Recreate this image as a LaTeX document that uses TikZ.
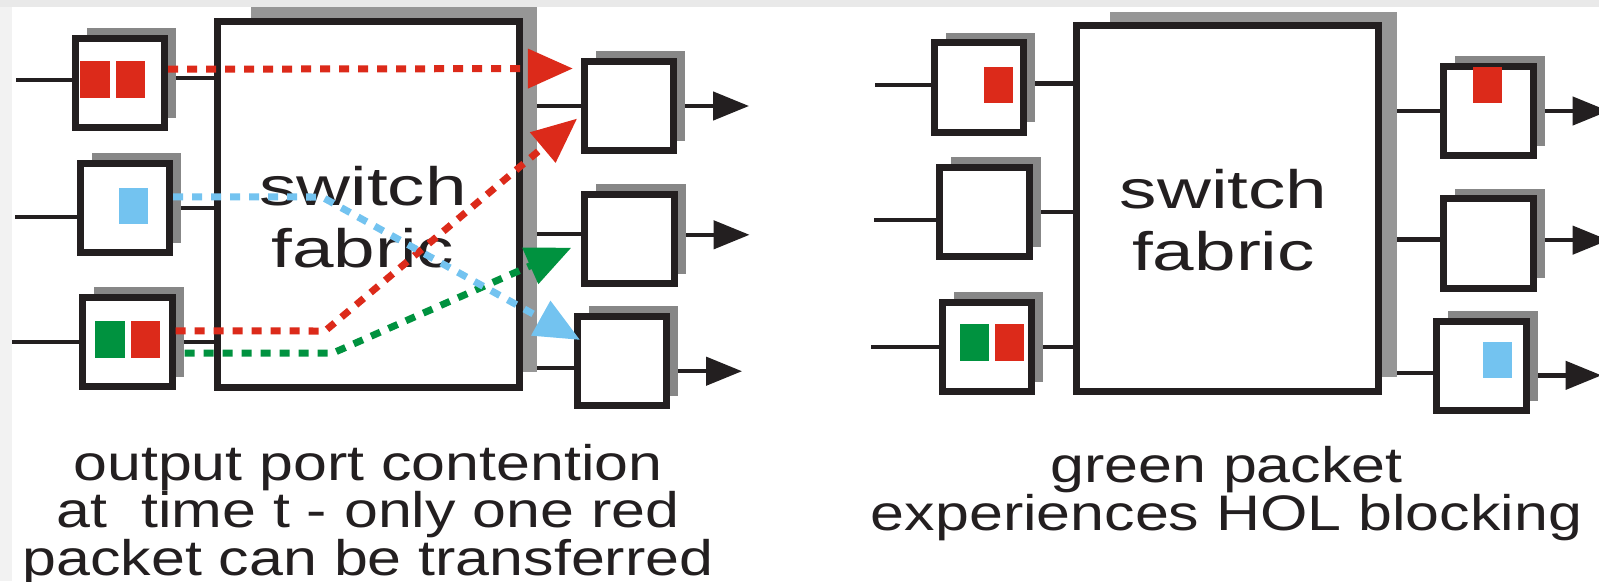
\documentclass[tikz,border=0pt]{standalone}
\usepackage{fontspec}
\setmainfont{Liberation Sans}
\newfontfamily\capfont[FakeStretch=1.22]{Liberation Sans}
\newfontfamily\fabfont[FakeStretch=1.38]{Liberation Sans}
\usetikzlibrary{positioning,arrows.meta,shadows,backgrounds}
\definecolor{ink}{RGB}{35,31,32}
\definecolor{pktred}{RGB}{220,42,26}
\definecolor{pktgreen}{RGB}{0,146,63}
\definecolor{pktblue}{RGB}{115,195,240}
\definecolor{boxshade}{RGB}{135,135,135}
\definecolor{fabshade}{RGB}{150,150,150}
\definecolor{bandtop}{RGB}{233,233,233}
\definecolor{bandleft}{RGB}{242,242,242}
\tikzset{
  port/.style={draw=ink, fill=white, line width=0.07cm, minimum size=0.89cm, inner sep=0pt,
    general shadow={fill=boxshade, shadow xshift=0.115cm, shadow yshift=0.1cm}},
  fabric/.style={draw=ink, fill=white, line width=0.07cm, minimum width=3.02cm, minimum height=3.65cm, inner sep=0pt},
  pkt/.style={minimum width=0.29cm, minimum height=0.36cm, inner sep=0pt},
  wire/.style={ink, line width=0.045cm},
  outwire/.style={wire, -{Triangle[length=0.36cm,width=0.28cm]}},
  flow/.style={line width=0.07cm, dash pattern=on 0.1cm off 0.09cm, -{Triangle[length=0.45cm,width=0.38cm]}},
  caption/.style={align=center, font=\capfont\fontsize{14.2pt}{13.4pt}\selectfont, text=ink, inner sep=0pt},
  fablabel/.style={align=center, font=\fabfont\fontsize{15.4pt}{17.6pt}\selectfont, text=ink, inner sep=0pt}
}
\begin{document}
\begin{tikzpicture}[x=0.01cm, y=-0.01cm]
    \useasboundingbox (0,0) rectangle (1599,581);
    % input port contention
    \fill[fabshade] (251,7) rectangle (537,372);
    \node[fabric] (fab1) at (368.5,204.5) {};
    \node[port] (in1) at (120,83) {};
    \node[port] (in2) at (125,208) {};
    \node[port] (in3) at (127.5,342) {};
    \node[port] (out1) at (629,106) {};
    \node[port] (out2) at (629.5,239) {};
    \node[port] (out3) at (622,361) {};
    \node[pkt, fill=pktred] (p1a) at (95,79.5) {};
    \node[pkt, fill=pktred, right=0.05cm of p1a] (p1b) {};
    \node[pkt, fill=pktblue] (p2) at (133.5,206) {};
    \node[pkt, fill=pktgreen] (p3a) at (110,339.5) {};
    \node[pkt, fill=pktred, right=0.05cm of p3a] (p3b) {};
    \node[fablabel] (lab1) at ([xshift=-0.055cm,yshift=-0.125cm]fab1.center) {switch\\fabric};
    \coordinate (bendr) at (325,331);
    \coordinate (bendg) at (333,353);
    \coordinate (bendb) at (322,197);
    \draw[flow, pktred, shorten >=0.08cm] (in1.16) -- (out1.142);
    \draw[flow, pktred, shorten >=0.05cm] (in3.13) -- (bendr) -- (out1.191);
    \draw[flow, pktgreen, shorten <=0.09cm, shorten >=0.11cm] (in3.347) -- (bendg) -- (out2.185);
    \draw[flow, pktblue, shorten >=-0.07cm] (in2.13) -- (bendb) -- (out3.153);
    \node[caption, anchor=base] (cap1) at (368,575) {output port contention\\at\ \ time t - only one red\\packet can be transferred};

    % head-of-line blocking
    \fill[fabshade] (1110,12) rectangle (1397,377);
    \node[fabric] (fab2) at (1227.5,208.5) {};
    \node[port] (rin1) at (979,87.5) {};
    \node[port] (rin2) at (984.5,212) {};
    \node[port] (rin3) at (987,347) {};
    \node[port] (rout1) at (1488.5,111) {};
    \node[port] (rout2) at (1488.5,243.5) {};
    \node[port] (rout3) at (1481.5,366) {};
    \node[pkt, fill=pktred] (q1) at (998.5,85) {};
    \node[pkt, fill=pktgreen] (q3a) at (974.5,342.5) {};
    \node[pkt, fill=pktred, right=0.05cm of q3a] (q3b) {};
    \node[pkt, fill=pktred] (q4) at (1487.5,85) {};
    \node[pkt, fill=pktblue] (q6) at (1497.5,360) {};
    \node[fablabel] (lab2) at ([xshift=-0.04cm,yshift=-0.115cm]fab2.center) {switch\\fabric};
    \node[caption, anchor=base] (cap2) at (1226.5,530) {green packet\\experiences HOL blocking};

    \begin{pgfonlayer}{background}
    \fill[white] (0,0) rectangle (1599,581);
    \fill[bandtop] (0,0) rectangle (1599,7);
    \fill[bandleft] (0,7) rectangle (12,581);
    \coordinate (src1) at (16,80);
    \coordinate (src2) at (15,217);
    \coordinate (src3) at (12,342);
    \draw[wire] (src1) -- (src1 -| in1.west);
    \draw[wire] (src2) -- (src2 -| in2.west);
    \draw[wire] (src3) -- (src3 -| in3.west);
    \draw[wire] (in1.6) -- (in1.6 -| fab1.west);
    \draw[wire] (in2.east) -- (in2.east -| fab1.west);
    \draw[wire] (in3.east) -- (in3.east -| fab1.west);
    \draw[wire] (fab1.east |- out1.west) -- (out1.west);
    \draw[wire] (fab1.east |- out2.174) -- (out2.174);
    \draw[wire] (fab1.east |- out3.188) -- (out3.188);
    \coordinate[right=0.72cm of out1.east] (dst1);
    \coordinate[right=0.72cm of out2.5] (dst2);
    \coordinate[right=0.72cm of out3.348] (dst3);
    \draw[outwire] (out1.east) -- (dst1);
    \draw[outwire] (out2.5) -- (dst2);
    \draw[outwire] (out3.348) -- (dst3);
    \coordinate (rsrc1) at (875,85);
    \coordinate (rsrc2) at (874,220);
    \coordinate (rsrc3) at (871,347);
    \draw[wire] (rsrc1) -- (rsrc1 -| rin1.west);
    \draw[wire] (rsrc2) -- (rsrc2 -| rin2.west);
    \draw[wire] (rsrc3) -- (rsrc3 -| rin3.west);
    \draw[wire] (rin1.5) -- (rin1.5 -| fab2.west);
    \draw[wire] (rin2.east) -- (rin2.east -| fab2.west);
    \draw[wire] (rin3.east) -- (rin3.east -| fab2.west);
    \draw[wire] (fab2.east |- rout1.west) -- (rout1.west);
    \draw[wire] (fab2.east |- rout2.175) -- (rout2.175);
    \draw[wire] (fab2.east |- rout3.188) -- (rout3.188);
    \coordinate[right=0.72cm of rout1.east] (rdst1);
    \coordinate[right=0.72cm of rout2.4] (rdst2);
    \coordinate[right=0.72cm of rout3.349] (rdst3);
    \draw[outwire] (rout1.east) -- (rdst1);
    \draw[outwire] (rout2.4) -- (rdst2);
    \draw[outwire] (rout3.349) -- (rdst3);
    \end{pgfonlayer}
\end{tikzpicture}
\end{document}
